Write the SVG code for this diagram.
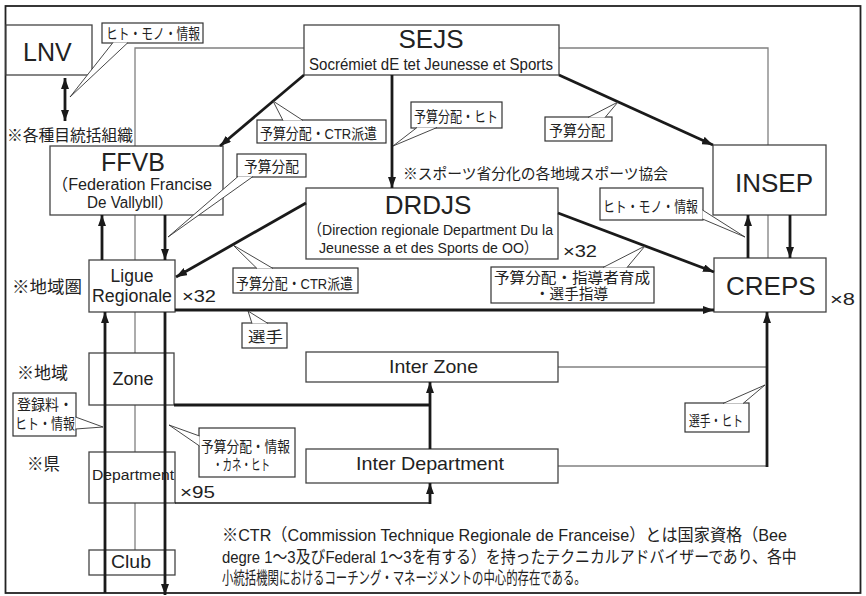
<svg xmlns="http://www.w3.org/2000/svg" width="866" height="596" viewBox="0 0 866 596">
<defs>
<style>
text{font-family:"Liberation Sans","Noto Sans CJK JP",sans-serif;fill:#222;}
.box{fill:#fff;stroke:#444;stroke-width:1.3;}
.gray{fill:none;stroke:#808080;stroke-width:1.3;}
.thick{fill:none;stroke:#1a1a1a;stroke-width:2.8;}
.thin{fill:none;stroke:#1a1a1a;stroke-width:1.6;}
.arr{marker-end:url(#ah);}
.co rect{fill:#fff;stroke:#333;stroke-width:1.2;}
.co path{fill:#fff;stroke:#333;stroke-width:0.9;}
.lbl{font-size:15px;}
.mid{text-anchor:middle;}
.fn{font-size:17px;}
</style>
<marker id="ah" markerUnits="userSpaceOnUse" markerWidth="11" markerHeight="8" refX="11" refY="4" orient="auto">
<path d="M0,0 L11,4 L0,8 z" fill="#1a1a1a"/>
</marker>
<marker id="ahs" markerUnits="userSpaceOnUse" markerWidth="11" markerHeight="8" refX="0" refY="4" orient="auto">
<path d="M11,0 L0,4 L11,8 z" fill="#1a1a1a"/>
</marker>
</defs>
<rect x="5.5" y="6" width="855" height="587" fill="#fff" stroke="#222" stroke-width="1.8"/>

<g id="gray-links">
<path class="gray" d="M135,550 V48 H304"/>
<path class="gray" d="M559,48 H768 V258"/>
<path class="gray" d="M558,367 H767"/>
<path class="gray" d="M558,466 H767"/>
</g>

<g id="node-lnv"><rect class="box" x="6" y="25" width="86" height="50"/><text x="23" y="61" font-size="25">LNV</text></g>
<g id="node-sejs"><rect class="box" x="304" y="25" width="255" height="50"/><text x="431" y="48" font-size="26" class="mid">SEJS</text><text x="309" y="70" font-size="16" textLength="244" lengthAdjust="spacingAndGlyphs">Socrémiet dE tet Jeunesse et Sports</text></g>
<g id="node-ffvb"><rect class="box" x="50" y="146" width="173" height="69"/><text x="133" y="171" font-size="25" class="mid">FFVB</text><text x="52" y="190" font-size="16" textLength="160" lengthAdjust="spacingAndGlyphs">（Federation Francise</text><text x="87" y="208" font-size="16" textLength="86" lengthAdjust="spacingAndGlyphs">De Vallybll）</text></g>
<g id="node-drdjs"><rect class="box" x="306" y="188" width="252" height="71"/><text x="428" y="214" font-size="26" class="mid">DRDJS</text><text x="308" y="235" font-size="15.5" textLength="245" lengthAdjust="spacingAndGlyphs">（Direction regionale Department Du la</text><text x="319" y="253" font-size="15.5" textLength="219" lengthAdjust="spacingAndGlyphs">Jeunesse a et des Sports de OO）</text></g>
<g id="node-insep"><rect class="box" x="713" y="145" width="113" height="70"/><text x="735" y="192" font-size="26">INSEP</text></g>
<g id="node-creps"><rect class="box" x="714" y="258" width="112" height="54"/><text x="726" y="295" font-size="26">CREPS</text></g>
<g id="node-ligue"><rect class="box" x="89" y="260" width="86" height="52"/><text x="132" y="282" font-size="17.5" class="mid">Ligue</text><text x="92" y="302" font-size="17.5" textLength="80" lengthAdjust="spacingAndGlyphs">Regionale</text></g>
<g id="node-zone"><rect class="box" x="89" y="353" width="85" height="52"/><text x="133" y="385" font-size="18" class="mid">Zone</text></g>
<g id="node-department"><rect class="box" x="89" y="452" width="86" height="51"/><text x="92" y="480" font-size="15.5" textLength="82" lengthAdjust="spacingAndGlyphs">Department</text></g>
<g id="node-club"><rect class="box" x="89" y="550" width="86" height="25"/><text x="111" y="568" font-size="18" textLength="40" lengthAdjust="spacingAndGlyphs">Club</text></g>
<g id="node-interzone"><rect class="box" x="306" y="352" width="252" height="30"/><text x="389" y="373" font-size="19" textLength="89" lengthAdjust="spacingAndGlyphs">Inter Zone</text></g>
<g id="node-interdepartment"><rect class="box" x="306" y="449" width="252" height="34"/><text x="356" y="470" font-size="19" textLength="148" lengthAdjust="spacingAndGlyphs">Inter Department</text></g>

<g id="notes">
<text x="7" y="141" font-size="16" textLength="126" lengthAdjust="spacingAndGlyphs">※各種目統括組織</text>
<text x="403" y="179" font-size="15" textLength="265" lengthAdjust="spacingAndGlyphs">※スポーツ省分化の各地域スポーツ協会</text>
<text x="12" y="293" font-size="17" textLength="70" lengthAdjust="spacingAndGlyphs">※地域圏</text>
<text x="17" y="379" font-size="17" textLength="51" lengthAdjust="spacingAndGlyphs">※地域</text>
<text x="27" y="470" font-size="17" textLength="33" lengthAdjust="spacingAndGlyphs">※県</text>
<text x="182" y="302" font-size="17" textLength="34" lengthAdjust="spacingAndGlyphs">×32</text>
<text x="563" y="257" font-size="17" textLength="34" lengthAdjust="spacingAndGlyphs">×32</text>
<text x="830" y="305" font-size="17" textLength="25" lengthAdjust="spacingAndGlyphs">×8</text>
<text x="180" y="498" font-size="17" textLength="35" lengthAdjust="spacingAndGlyphs">×95</text>
<text class="fn" transform="translate(222,541) scale(0.95,1)" x="0" y="0">※CTR（Commission Technique Regionale de Franceise）とは国家資格（Bee</text>
<text class="fn" transform="translate(222,563) scale(0.876,1)" x="0" y="0">degre 1〜3及びFederal 1〜3を有する）を持ったテクニカルアドバイザーであり、各中</text>
<text class="fn" transform="translate(222,584) scale(0.67,1)" x="0" y="0">小統括機関におけるコーチング・マネージメントの中心的存在である。</text>
</g>

<g id="connectors">
<path class="thick" d="M65,78 V121" stroke-width="2.5" marker-start="url(#ahs)" marker-end="url(#ah)"/>
<path class="thick arr" d="M304,75 L220,146"/>
<path class="thick arr" d="M392,75 V188"/>
<path class="thick arr" d="M559,75 L713,145"/>
<path class="thick arr" d="M165,215 V260"/>
<path class="thick arr" d="M102,260 V215"/>
<path class="thick arr" d="M306,203 L176,277"/>
<path class="thick arr" d="M558,213 L714,272"/>
<path class="thick arr" d="M175,310 H714"/>
<path class="thick arr" d="M790,215 V258"/>
<path class="thick arr" d="M748,258 V215"/>
<path class="thick arr" d="M767,467 V312"/>
<path class="thick" d="M174,405 H431"/>
<path class="thick arr" d="M430,449 V382"/>
<path class="thin" d="M175,503 H431"/>
<path class="thick arr" d="M430,504 V483" stroke-width="2.2"/>
<path class="thick arr" d="M105,593 V312"/>
<path class="thick arr" d="M165,312 V595"/>
</g>

<g id="callouts" class="co">
<g><rect x="102" y="23" width="101" height="20"/><path d="M113,42.5 L70,97 L128,42.5"/><text class="lbl" x="106" y="39" textLength="94" lengthAdjust="spacingAndGlyphs">ヒト・モノ・情報</text></g>
<g><rect x="257" y="120" width="129" height="23"/><path d="M283,120.5 L273,101 L303,120.5"/><text class="lbl" x="260" y="139" textLength="117" lengthAdjust="spacingAndGlyphs">予算分配・CTR派遣</text></g>
<g><rect x="411" y="102" width="91" height="26"/><path d="M417,127.5 L393,146 L437,127.5"/><text class="lbl" x="414" y="122" textLength="84" lengthAdjust="spacingAndGlyphs">予算分配・ヒト</text></g>
<g><rect x="545" y="117" width="67" height="24"/><path d="M588,117.5 L618,102 L605,117.5"/><text class="lbl" x="549" y="136" textLength="56" lengthAdjust="spacingAndGlyphs">予算分配</text></g>
<g><rect x="237" y="154" width="69" height="23"/><path d="M238,176.5 L168,237 L253,176.5"/><text class="lbl" x="244" y="172" textLength="55" lengthAdjust="spacingAndGlyphs">予算分配</text></g>
<g><rect x="233" y="268" width="125" height="25"/><path d="M257,268.5 L233,245 L273,268.5"/><text class="lbl" x="236" y="289" textLength="117" lengthAdjust="spacingAndGlyphs">予算分配・CTR派遣</text></g>
<g><rect x="491" y="267" width="163" height="36"/><path d="M603,267.5 L645,246 L627,267.5"/><text class="lbl" x="494" y="283" textLength="156" lengthAdjust="spacingAndGlyphs">予算分配・指導者育成</text><text class="lbl" x="535" y="299" textLength="73" lengthAdjust="spacingAndGlyphs">・選手指導</text></g>
<g><rect x="600" y="188" width="103" height="32"/><path d="M702.5,210 L745,237 L702.5,219"/><text class="lbl" x="603" y="212" textLength="95" lengthAdjust="spacingAndGlyphs">ヒト・モノ・情報</text></g>
<g><rect x="242" y="323" width="45" height="25"/><path d="M252,323.5 L248,311 L268,323.5"/><text class="lbl" x="248" y="342" textLength="35" lengthAdjust="spacingAndGlyphs">選手</text></g>
<g><rect x="13" y="393" width="63" height="43"/><path d="M75.5,417 L103,427 L75.5,429"/><text class="lbl" x="17" y="410" textLength="56" lengthAdjust="spacingAndGlyphs">登録料・</text><text class="lbl" x="15" y="429" textLength="60" lengthAdjust="spacingAndGlyphs">ヒト・情報</text></g>
<g><rect x="199" y="428" width="96" height="49"/><path d="M199.5,436 L169,425 L199.5,446"/><text class="lbl" x="201" y="452" textLength="89" lengthAdjust="spacingAndGlyphs">予算分配・情報</text><text class="lbl" x="213" y="470" textLength="57" lengthAdjust="spacingAndGlyphs">・カネ・ヒト</text></g>
<g><rect x="685" y="403" width="64" height="29"/><path d="M723,403.5 L765,385 L743,403.5"/><text class="lbl" x="689" y="426" textLength="54" lengthAdjust="spacingAndGlyphs">選手・ヒト</text></g>
</g>
</svg>
